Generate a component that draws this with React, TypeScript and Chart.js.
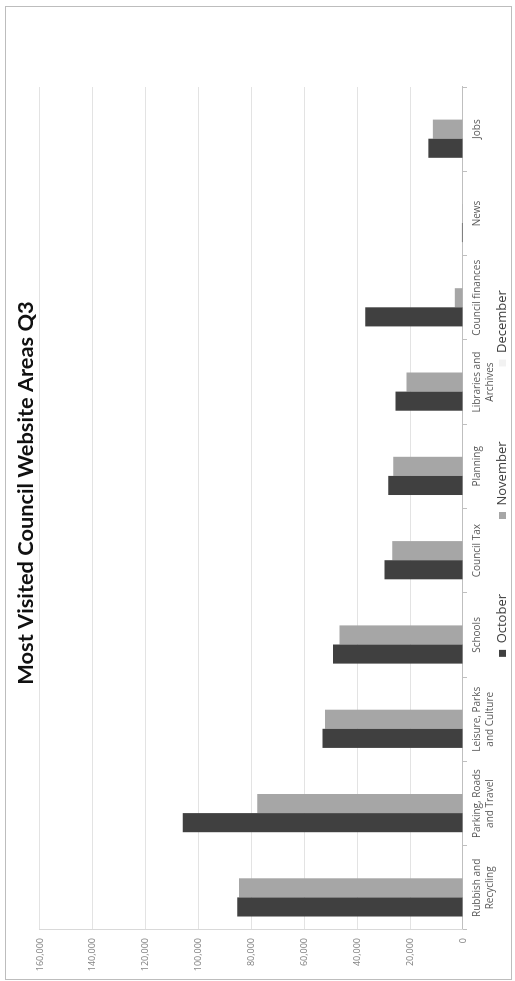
import React, { useEffect, useRef } from 'react';
import { Chart, registerables } from 'chart.js';

Chart.register(...registerables);

const categories: (string | string[])[] = [
  ['Rubbish and', 'Recycling'],
  ['Parking, Roads', 'and Travel'],
  ['Leisure, Parks', 'and Culture'],
  'Schools',
  'Council Tax',
  'Planning',
  ['Libraries and', 'Archives'],
  'Council finances',
  'News',
  'Jobs',
];

const october = [85400, 106000, 53100, 49200, 29700, 28300, 25500, 37000, 400, 13100];
const november = [84700, 77800, 52200, 46700, 26800, 26400, 21400, 3100, 300, 11400];
const december: (number | null)[] = [null, null, null, null, null, null, null, null, null, null];

const valueMin = 0;
const valueMax = 160000;
const valueStep = 20000;

const titleText = 'Most Visited Council Website Areas Q3';

const CW = 972;
const CH = 505;
const LEGEND_PAD = 75;
const LEGEND_FONT = 13;
const LEGEND_CENTER_Y = 496.5;
const LEGEND_MID_X = 505.5;

const placePlugin = {
  id: 'placeBlocks',
  afterLayout(chart: any) {
    const t = chart.titleBlock;
    if (t) {
      t.left = 0;
      t.right = chart.width;
      t.width = chart.width;
    }
    const l = chart.legend;
    if (l) {
      const right = chart.width;
      const left = 2 * LEGEND_MID_X - right;
      l.left = left;
      l.right = right;
      l.width = right - left;
      l.top = LEGEND_CENTER_Y - LEGEND_FONT / 2 - LEGEND_PAD;
      l.bottom = chart.height;
      l.height = l.bottom - l.top;
    }
  },
};

function BarChart() {
  const ref = useRef<HTMLCanvasElement | null>(null);
  useEffect(() => {
    if (!ref.current) return;
    Chart.defaults.font.family = "'Open Sans', sans-serif";
    const chart = new Chart(ref.current, {
      type: 'bar',
      data: {
        labels: categories,
        datasets: [
          { label: 'October', data: october, backgroundColor: '#404040', borderWidth: 0 },
          { label: 'November', data: november, backgroundColor: '#a6a6a6', borderWidth: 0 },
          { label: 'December', data: december, backgroundColor: '#f2f2f2', borderWidth: 0 },
        ],
      },
      options: {
        responsive: false,
        animation: false,
        devicePixelRatio: 1,
        layout: { padding: { left: 0, right: 80, top: 0, bottom: 0 } },
        datasets: { bar: { barPercentage: 1, categoryPercentage: 0.68 } },
        plugins: {
          title: {
            display: true,
            text: titleText,
            color: '#111111',
            font: { family: 'Lato', weight: 'bold', size: 21.8, lineHeight: 1.2 },
            padding: { top: 6.5, bottom: 1.3 },
          },
          legend: {
            display: true,
            position: 'bottom',
            maxHeight: 14,
            labels: {
              boxWidth: 7,
              boxHeight: 7,
              padding: LEGEND_PAD,
              color: '#404040',
              font: { size: LEGEND_FONT },
            },
          },
          tooltip: { enabled: false },
        },
        scales: {
          x: {
            grid: {
              display: true,
              drawOnChartArea: false,
              drawTicks: true,
              tickLength: 4,
              color: '#bfbfbf',
            },
            border: { display: true, color: '#bfbfbf' },
            ticks: {
              autoSkip: false,
              maxRotation: 0,
              minRotation: 0,
              padding: 4,
              color: '#595959',
              font: { size: 10, lineHeight: 1.25 },
            },
            afterFit(scale: any) {
              scale.height = 34;
            },
          },
          y: {
            min: valueMin,
            max: valueMax,
            ticks: {
              stepSize: valueStep,
              padding: 8,
              color: '#7f7f7f',
              font: { size: 9 },
            },
            grid: { color: '#e3e3e3', drawTicks: false },
            border: { display: true, color: '#d9d9d9' },
            afterFit(scale: any) {
              scale.width = 49;
            },
          },
        },
      },
      plugins: [placePlugin],
    } as any);
    return () => chart.destroy();
  }, []);
  return <canvas ref={ref} width={CW} height={CH} style={{ display: 'block', width: CW, height: CH }} />;
}

export default function App() {
  return (
    <div
      style={{
        position: 'fixed',
        left: 0,
        top: 0,
        width: CW,
        height: CH,
        background: '#ffffff',
        outline: '1px solid #bdbdbd',
        transformOrigin: '0 0',
        transform: 'translate(6px, 979px) rotate(-90deg)',
      }}
    >
      <BarChart />
    </div>
  );
}
